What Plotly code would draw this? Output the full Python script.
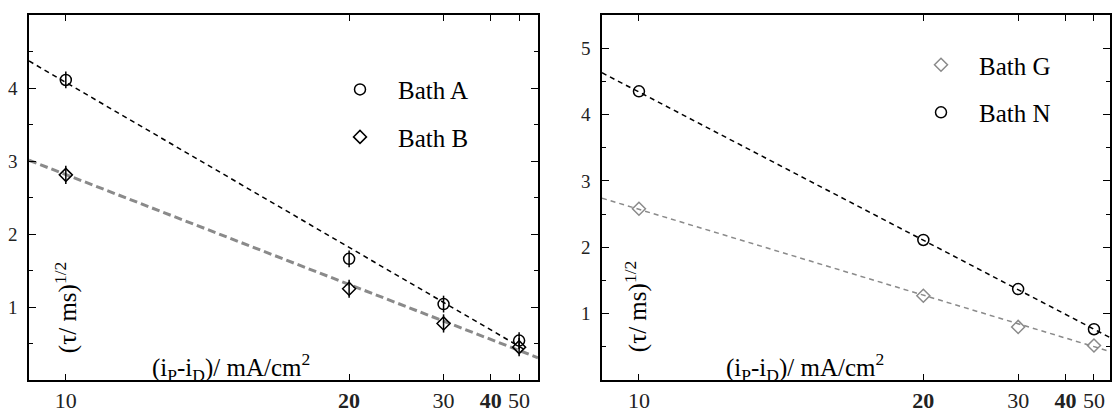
import plotly.graph_objects as go

# ---------------- data ----------------
current = [10, 20, 30, 50]                 # (iP - iD) / mA/cm^2
bath_a = [4.11, 1.66, 1.04, 0.54]
bath_b = [2.81, 1.25, 0.775, 0.45]
bath_g = [2.58, 1.27, 0.80, 0.52]
bath_n = [4.35, 2.11, 1.37, 0.765]

# fitted straight lines (in 1/x), end points
fit_a_x = [9.39, 53.6]
fit_a_y = [4.37, 0.40]
fit_b_x = [9.39, 60.0]
fit_b_y = [3.01, 0.305]
fit_n_x = [9.39, 58.2]
fit_n_y = [4.63, 0.64]
fit_g_x = [9.39, 58.2]
fit_g_y = [2.74, 0.43]

x_ticks = [10, 20, 30, 40, 50]
x_ticktext = ["10", "<b>20</b>", "30", "<b>40</b>", "50"]
left_yticks = [1, 2, 3, 4]
right_yticks = [1, 2, 3, 4, 5]
left_xlim = [9.39, 60.0]
right_xlim = [9.39, 58.2]
left_ylim = [0, 5]
right_ylim = [0, 5.5]

FONT = "Times New Roman, Liberation Serif, serif"
GRAY = "#8a8a8a"


def inv(v):
    return [1.0 / t for t in v]


fig = go.Figure()

# ---- left panel ----
fig.add_trace(go.Scatter(x=inv(fit_a_x), y=fit_a_y, mode="lines", showlegend=False,
                         line=dict(color="black", width=1.5, dash="5px,4px"), xaxis="x", yaxis="y"))
fig.add_trace(go.Scatter(x=inv(fit_b_x), y=fit_b_y, mode="lines", showlegend=False,
                         line=dict(color=GRAY, width=3, dash="8px,4px"), xaxis="x", yaxis="y"))
fig.add_trace(go.Scatter(x=inv(current), y=bath_a, mode="markers", name="Bath A",
                         legend="legend", legendgroup="a",
                         marker=dict(symbol="circle-open", size=11, color="black", line=dict(width=1.5)),
                         xaxis="x", yaxis="y"))
fig.add_trace(go.Scatter(x=inv(current), y=bath_a, mode="markers", showlegend=False,
                         marker=dict(symbol="line-ns-open", size=12, color="black", line=dict(width=1.5)),
                         xaxis="x", yaxis="y"))
fig.add_trace(go.Scatter(x=inv(current), y=bath_b, mode="markers", name="Bath B",
                         legend="legend", legendgroup="b",
                         marker=dict(symbol="diamond-open", size=10, color="black", line=dict(width=1.5)),
                         xaxis="x", yaxis="y"))
fig.add_trace(go.Scatter(x=inv(current), y=bath_b, mode="markers", showlegend=False,
                         marker=dict(symbol="line-ns-open", size=13, color="black", line=dict(width=1.5)),
                         xaxis="x", yaxis="y"))

# ---- right panel ----
fig.add_trace(go.Scatter(x=inv(fit_n_x), y=fit_n_y, mode="lines", showlegend=False,
                         line=dict(color="black", width=1.5, dash="5px,4px"), xaxis="x2", yaxis="y2"))
fig.add_trace(go.Scatter(x=inv(fit_g_x), y=fit_g_y, mode="lines", showlegend=False,
                         line=dict(color=GRAY, width=1.5, dash="5px,4px"), xaxis="x2", yaxis="y2"))
fig.add_trace(go.Scatter(x=inv(current), y=bath_g, mode="markers", name="Bath G",
                         legend="legend2", legendgroup="g",
                         marker=dict(symbol="diamond-open", size=10, color=GRAY, line=dict(width=1.5)),
                         xaxis="x2", yaxis="y2"))
fig.add_trace(go.Scatter(x=inv(current), y=bath_n, mode="markers", name="Bath N",
                         legend="legend2", legendgroup="n",
                         marker=dict(symbol="circle-open", size=11, color="black", line=dict(width=1.5)),
                         xaxis="x2", yaxis="y2"))

W, H = 1113, 413
T, B = 15, 27
PH = H - T - B


def px_x(p):
    return p / W


def px_y(p):
    return (H - B - p) / PH


xaxis_common = dict(
    showline=True, linecolor="black", linewidth=1.5, mirror="ticks",
    ticks="inside", ticklen=6, tickwidth=1.2, tickcolor="black",
    showgrid=False, zeroline=False,
    tickmode="array", tickvals=inv(x_ticks), ticktext=x_ticktext,
    tickfont=dict(family=FONT, size=22, color="#222"),
)
yaxis_common = dict(
    showline=True, linecolor="black", linewidth=1.5, mirror="ticks",
    ticks="inside", ticklen=7, tickwidth=1.2, tickcolor="black",
    showgrid=False, zeroline=False, tickmode="array",
    tickfont=dict(family=FONT, size=19, color="#222"),
    ticklabelstandoff=6,
    minor=dict(ticks="inside", ticklen=4, dtick=0.5, tick0=0, tickwidth=1.2, tickcolor="black", showgrid=False),
)

LEG_FONT = dict(family=FONT, size=25, color="black")
LABEL_FONT = dict(family=FONT, size=25, color="black")

fig.update_layout(
    width=W, height=H,
    margin=dict(l=0, r=0, t=T, b=B),
    plot_bgcolor="white", paper_bgcolor="white",
    font=dict(family=FONT),
    xaxis=dict(domain=[px_x(29), px_x(538)], range=inv(left_xlim), anchor="y", **xaxis_common),
    yaxis=dict(domain=[0, 1], range=left_ylim, anchor="x", tickvals=left_yticks, **yaxis_common),
    xaxis2=dict(domain=[px_x(602), px_x(1110)], range=inv(right_xlim), anchor="y2", **xaxis_common),
    yaxis2=dict(domain=[0, 1], range=right_ylim, anchor="x2", tickvals=right_yticks, **yaxis_common),
    legend=dict(x=px_x(322), y=px_y(67.5), xanchor="left", yanchor="top",
                font=LEG_FONT, itemwidth=66, traceorder="grouped", tracegroupgap=12,
                bgcolor="rgba(0,0,0,0)", borderwidth=0),
    legend2=dict(x=px_x(903), y=px_y(42.5), xanchor="left", yanchor="top",
                 font=LEG_FONT, itemwidth=66, traceorder="grouped", tracegroupgap=12,
                 bgcolor="rgba(0,0,0,0)", borderwidth=0),
    annotations=[
        dict(text="(\u03c4/ ms)<sup>1/2</sup>", textangle=-90, showarrow=False,
             xref="paper", yref="paper", x=px_x(66), y=px_y(313),
             xanchor="center", yanchor="middle", font=LABEL_FONT),
        dict(text="(\u03c4/ ms)<sup>1/2</sup>", textangle=-90, showarrow=False,
             xref="paper", yref="paper", x=px_x(636), y=px_y(312),
             xanchor="center", yanchor="middle", font=LABEL_FONT),
        dict(text="(i<sub>P</sub>-i<sub>D</sub>)/ mA/cm<sup>2</sup>", showarrow=False,
             xref="paper", yref="paper", x=px_x(231), y=px_y(373),
             xanchor="center", yanchor="middle", font=LABEL_FONT),
        dict(text="(i<sub>P</sub>-i<sub>D</sub>)/ mA/cm<sup>2</sup>", showarrow=False,
             xref="paper", yref="paper", x=px_x(805), y=px_y(373),
             xanchor="center", yanchor="middle", font=LABEL_FONT),
    ],
)

fig.write_html("out.html")
